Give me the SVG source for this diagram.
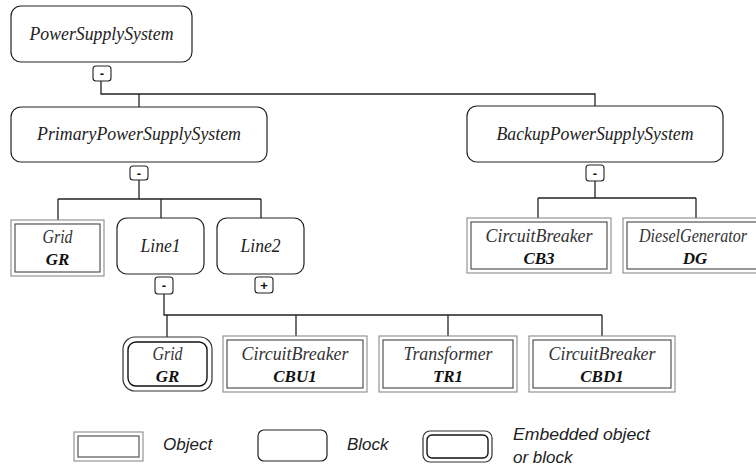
<svg xmlns="http://www.w3.org/2000/svg" width="756" height="473" viewBox="0 0 756 473">
<style>
.bg{fill:#ffffff}
.blk{fill:#ffffff;stroke:#222;stroke-width:1.2}
.oo{fill:#ffffff;stroke:#8a8a8a;stroke-width:1.1}
.oi{fill:none;stroke:#444;stroke-width:1.1}
.eo{fill:#ffffff;stroke:#333;stroke-width:1.2}
.ei{fill:none;stroke:#111;stroke-width:1.4}
.tg{fill:#ffffff;stroke:#222;stroke-width:1.1}
.tgt{font-family:"Liberation Sans",Arial,sans-serif;font-weight:bold;font-size:13px;fill:#111;text-anchor:middle}
.bt{font-family:"Liberation Serif","Times New Roman",serif;font-style:italic;font-size:19.5px;fill:#222;text-anchor:middle}
.ot{font-family:"Liberation Serif","Times New Roman",serif;font-style:italic;font-size:18px;fill:#333;text-anchor:middle}
.on{font-family:"Liberation Serif","Times New Roman",serif;font-style:italic;font-weight:bold;font-size:17px;fill:#111;text-anchor:middle}
.lt{font-family:"Liberation Sans",Arial,sans-serif;font-style:italic;font-size:17px;fill:#222}
.edge{fill:none;stroke:#222;stroke-width:1.3}
</style>
<rect class="bg" x="0" y="0" width="756" height="473"/>
<g id="connectors">
<path class="edge" d="M101,81 V94 H595 V106"/>
<path class="edge" d="M139,94 V107"/>
<path class="edge" d="M139,180 V199 M58,199 H261 M58,199 V220 M161,199 V218 M261,199 V218"/>
<path class="edge" d="M595,181 V198 M538,198 H696 M538,198 V218 M696,198 V218"/>
<path class="edge" d="M164,294 V315 H602 M167,315 V337 M296,315 V336 M448,315 V336 M602,315 V336"/>
</g>
<g id="PowerSupplySystem">
<rect class="blk" x="11" y="6" width="181" height="56" rx="10"/>
<text class="bt" x="101.5" y="40" textLength="144" lengthAdjust="spacingAndGlyphs">PowerSupplySystem</text>
<rect class="tg" x="93" y="66" width="18" height="15" rx="3"/>
<text class="tgt" x="102" y="78">-</text>
</g>
<g id="PrimaryPowerSupplySystem">
<rect class="blk" x="11" y="107" width="256" height="55" rx="10"/>
<text class="bt" x="139" y="140" textLength="204" lengthAdjust="spacingAndGlyphs">PrimaryPowerSupplySystem</text>
<rect class="tg" x="130" y="166" width="18" height="14" rx="3"/>
<text class="tgt" x="139" y="177.5">-</text>
</g>
<g id="BackupPowerSupplySystem">
<rect class="blk" x="467" y="106" width="256" height="56" rx="10"/>
<text class="bt" x="595" y="140" textLength="197" lengthAdjust="spacingAndGlyphs">BackupPowerSupplySystem</text>
<rect class="tg" x="586" y="165" width="18" height="16" rx="3"/>
<text class="tgt" x="595" y="177.5">-</text>
</g>
<g id="GridGR">
<rect class="oo" x="11" y="220" width="93" height="56"/>
<rect class="oi" x="15" y="224" width="85" height="48"/>
<text class="ot" x="57.5" y="243" textLength="30" lengthAdjust="spacingAndGlyphs">Grid</text>
<text class="on" x="57.5" y="265">GR</text>
</g>
<g id="Line1">
<rect class="blk" x="117" y="218" width="87" height="56" rx="10"/>
<text class="bt" x="160.5" y="252" textLength="40" lengthAdjust="spacingAndGlyphs">Line1</text>
<rect class="tg" x="155" y="277" width="18" height="17" rx="3"/>
<text class="tgt" x="164" y="290">-</text>
</g>
<g id="Line2">
<rect class="blk" x="217" y="218" width="87" height="56" rx="10"/>
<text class="bt" x="260.5" y="252" textLength="40" lengthAdjust="spacingAndGlyphs">Line2</text>
<rect class="tg" x="255" y="277" width="18" height="16" rx="3"/>
<text class="tgt" x="264" y="290">+</text>
</g>
<g id="CB3">
<rect class="oo" x="467" y="218" width="144" height="55"/>
<rect class="oi" x="471" y="222" width="136" height="47"/>
<text class="ot" x="539" y="242" textLength="107" lengthAdjust="spacingAndGlyphs">CircuitBreaker</text>
<text class="on" x="539" y="264">CB3</text>
</g>
<g id="DG">
<rect class="oo" x="623" y="218" width="144" height="55"/>
<rect class="oi" x="627" y="222" width="136" height="47"/>
<text class="ot" x="693" y="242" textLength="108" lengthAdjust="spacingAndGlyphs">DieselGenerator</text>
<text class="on" x="695" y="264">DG</text>
</g>
<g id="GridEmbedded">
<rect class="eo" x="123" y="337" width="89" height="54" rx="12"/>
<rect class="ei" x="128" y="342" width="79" height="44" rx="8"/>
<text class="ot" x="167.5" y="360" textLength="30" lengthAdjust="spacingAndGlyphs">Grid</text>
<text class="on" x="167.5" y="382">GR</text>
</g>
<g id="CBU1">
<rect class="oo" x="223" y="336" width="144" height="56"/>
<rect class="oi" x="227" y="340" width="136" height="48"/>
<text class="ot" x="295" y="360" textLength="107" lengthAdjust="spacingAndGlyphs">CircuitBreaker</text>
<text class="on" x="295" y="382">CBU1</text>
</g>
<g id="TR1">
<rect class="oo" x="379" y="336" width="138" height="56"/>
<rect class="oi" x="383" y="340" width="130" height="48"/>
<text class="ot" x="448" y="360" textLength="89" lengthAdjust="spacingAndGlyphs">Transformer</text>
<text class="on" x="448" y="382">TR1</text>
</g>
<g id="CBD1">
<rect class="oo" x="529" y="336" width="146" height="56"/>
<rect class="oi" x="533" y="340" width="138" height="48"/>
<text class="ot" x="602" y="360" textLength="107" lengthAdjust="spacingAndGlyphs">CircuitBreaker</text>
<text class="on" x="602" y="382">CBD1</text>
</g>
<g id="legend">
<rect class="oo" x="74" y="432" width="69" height="29"/>
<rect class="oi" x="78" y="436" width="61" height="21"/>
<text class="lt" x="163" y="450">Object</text>
<rect class="blk" x="258" y="430" width="69" height="31" rx="6"/>
<text class="lt" x="347" y="450">Block</text>
<rect class="eo" x="423" y="431" width="69" height="31" rx="7"/>
<rect class="ei" x="427" y="435" width="61" height="23" rx="5"/>
<text class="lt" x="513" y="440" textLength="137" lengthAdjust="spacingAndGlyphs">Embedded object</text>
<text class="lt" x="513" y="463">or block</text>
</g>
</svg>
